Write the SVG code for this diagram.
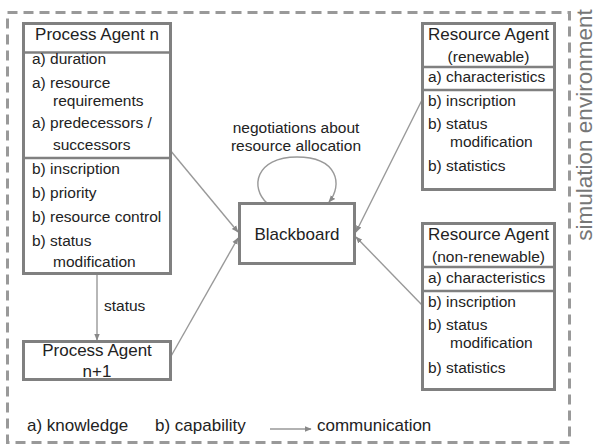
<svg xmlns="http://www.w3.org/2000/svg" width="596" height="446" viewBox="0 0 596 446">
<style>
text{font-family:"Liberation Sans",Arial,sans-serif;fill:#222}
.hd{font-size:17px}
.bd{font-size:15.5px}
.lg{font-size:17px}
.box{fill:#fff;stroke:#808080;stroke-width:3}
.div{stroke:#808080;stroke-width:2.5}
.con{stroke:#999;stroke-width:1.4;fill:none}
.env{fill:none;stroke:#999;stroke-width:3;stroke-dasharray:10 6}
</style>
<defs>
<marker id="ah" viewBox="0 0 10 10" refX="9" refY="5" markerWidth="7" markerHeight="7" markerUnits="userSpaceOnUse" orient="auto">
<path d="M0,1 L10,5 L0,9 z" fill="#888"/>
</marker>
</defs>
<rect width="596" height="446" fill="#fff"/>
<rect class="env" x="7.5" y="12.5" width="562" height="430"/>
<text x="592" y="125" text-anchor="middle" transform="rotate(-90 592 125)" style="font-size:22.5px;fill:#777">simulation environment</text>

<g id="connectors">
<line class="con" x1="170" y1="150" x2="238" y2="232" marker-end="url(#ah)"/>
<line class="con" x1="170" y1="358" x2="238" y2="238" marker-end="url(#ah)"/>
<line class="con" x1="422" y1="100" x2="356" y2="232" marker-end="url(#ah)"/>
<line class="con" x1="422" y1="305" x2="356" y2="237" marker-end="url(#ah)"/>
<line class="con" x1="97" y1="274" x2="97" y2="340" marker-end="url(#ah)"/>
<path class="con" d="M267 203 C250 188 255 157 297 157 C338 157 343 185 329 202" marker-end="url(#ah)"/>
<text class="bd" x="104" y="311">status</text>
<text class="bd" x="296" y="133" text-anchor="middle">negotiations about</text>
<text class="bd" x="296" y="151" text-anchor="middle">resource allocation</text>
</g>

<g id="process-agent-n">
<rect class="box" x="23.5" y="23.5" width="147" height="250"/>
<line class="div" x1="23" y1="52.5" x2="171" y2="52.5"/>
<line class="div" x1="23" y1="158" x2="171" y2="158"/>
<text class="hd" x="97" y="40" text-anchor="middle">Process Agent n</text>
<text class="bd" x="32" y="64">a) duration</text>
<text class="bd" x="32" y="88">a) resource</text>
<text class="bd" x="53" y="106">requirements</text>
<text class="bd" x="32" y="128">a) predecessors /</text>
<text class="bd" x="53" y="150">successors</text>
<text class="bd" x="32" y="174">b) inscription</text>
<text class="bd" x="32" y="198">b) priority</text>
<text class="bd" x="32" y="222">b) resource control</text>
<text class="bd" x="32" y="246">b) status</text>
<text class="bd" x="53" y="267">modification</text>
</g>

<g id="process-agent-n1">
<rect class="box" x="23.5" y="341.5" width="147" height="38"/>
<text class="hd" x="97" y="356" text-anchor="middle">Process Agent</text>
<text class="hd" x="97" y="377" text-anchor="middle">n+1</text>
</g>

<g id="blackboard">
<rect class="box" x="239.5" y="203.5" width="115" height="60"/>
<text class="hd" x="297" y="240" text-anchor="middle">Blackboard</text>
</g>

<g id="resource-agent-renewable">
<rect class="box" x="422.5" y="23.5" width="132" height="166"/>
<line class="div" x1="422" y1="67" x2="555" y2="67"/>
<line class="div" x1="422" y1="90" x2="555" y2="90"/>
<text class="hd" x="488.5" y="40" text-anchor="middle">Resource Agent</text>
<text class="bd" x="488.5" y="62" text-anchor="middle">(renewable)</text>
<text class="bd" x="428" y="82">a) characteristics</text>
<text class="bd" x="428" y="106">b) inscription</text>
<text class="bd" x="428" y="129">b) status</text>
<text class="bd" x="450" y="147">modification</text>
<text class="bd" x="428" y="171">b) statistics</text>
</g>

<g id="resource-agent-nonrenewable">
<rect class="box" x="422.5" y="223.5" width="132" height="166"/>
<line class="div" x1="422" y1="267" x2="555" y2="267"/>
<line class="div" x1="422" y1="291" x2="555" y2="291"/>
<text class="hd" x="488.5" y="240" text-anchor="middle">Resource Agent</text>
<text class="bd" x="488.5" y="262" text-anchor="middle">(non-renewable)</text>
<text class="bd" x="428" y="283">a) characteristics</text>
<text class="bd" x="428" y="307">b) inscription</text>
<text class="bd" x="428" y="330">b) status</text>
<text class="bd" x="450" y="348">modification</text>
<text class="bd" x="428" y="373">b) statistics</text>
</g>

<g id="legend">
<text class="lg" x="27" y="431">a) knowledge</text>
<text class="lg" x="155" y="431">b) capability</text>
<line class="con" x1="270" y1="429" x2="311" y2="429" marker-end="url(#ah)"/>
<text class="lg" x="317" y="431">communication</text>
</g>
</svg>
